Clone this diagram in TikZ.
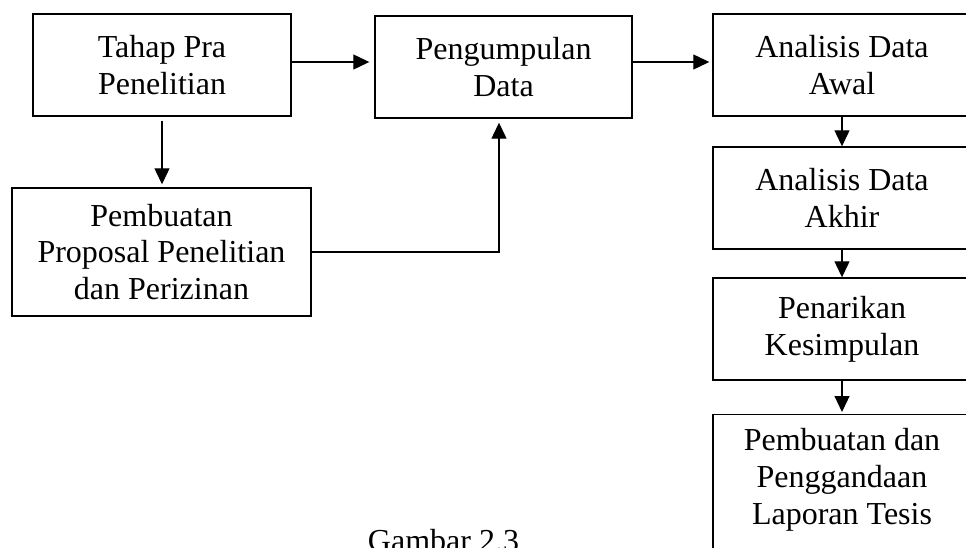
\documentclass[tikz,border=0pt]{standalone}
\usepackage{fontspec}
\setmainfont{Liberation Serif}
\usetikzlibrary{arrows.meta}
\begin{document}
\begin{tikzpicture}[x=1pt,y=-1pt,
  box/.style={draw,line width=1.4pt,minimum width=258pt,minimum height=102pt,inner sep=0pt,align=center,font=\fontsize{32}{36.8}\selectfont},
  txt/.style={inner sep=0pt,align=center,font=\fontsize{32}{36.8}\selectfont},
  arr/.style={line width=1.2pt,-{Triangle[length=16pt,width=15pt]}}]
\useasboundingbox (0,0) rectangle (966,548);
\clip (0,0) rectangle (966,548);
\node[box] (b1) at (162,65) {Tahap Pra\\Penelitian};
\node[box,minimum width=299pt,minimum height=128pt] (b2) at (161.5,252) {Pembuatan\\Proposal Penelitian\\dan Perizinan};
\node[box,minimum width=257pt] (b3) at (503.5,67) {Pengumpulan\\Data};
\node[box] (b4) at (842,65) {Analisis Data\\Awal};
\node[box] (b5) at (842,198) {Analisis Data\\Akhir};
\node[box] (b6) at (842,329) {Penarikan\\Kesimpulan};
\node[box,minimum height=160pt,anchor=north] (b7) at (842,414) {};
\node[txt] (t7) at (842,480) {Pembuatan dan\\Penggandaan\\Laporan Tesis};
\node[txt,anchor=base] (cap) at (443.5,551) {Gambar 2.3};
\coordinate (y62) at (0,62);
\coordinate (y252) at (0,252);
\coordinate (x499) at (499,0);
\coordinate (c1) at (499,252);
\draw[arr,shorten >=5pt] (b1.east |- y62) -- (b3.west |- y62);
\draw[arr,shorten >=3pt] (b3.east |- y62) -- (b4.west |- y62);
\draw[arr,shorten <=4pt,shorten >=3pt] (b1.south) -- (b2.north -| b1.south);
\draw[arr,shorten >=4pt] (b2.east |- y252) -- (c1) -- (b3.south -| x499);
\draw[arr] (b4.south) -- (b5.north);
\draw[arr] (b5.south) -- (b6.north);
\draw[arr,shorten >=2pt] (b6.south) -- (b7.north);
\end{tikzpicture}
\end{document}
